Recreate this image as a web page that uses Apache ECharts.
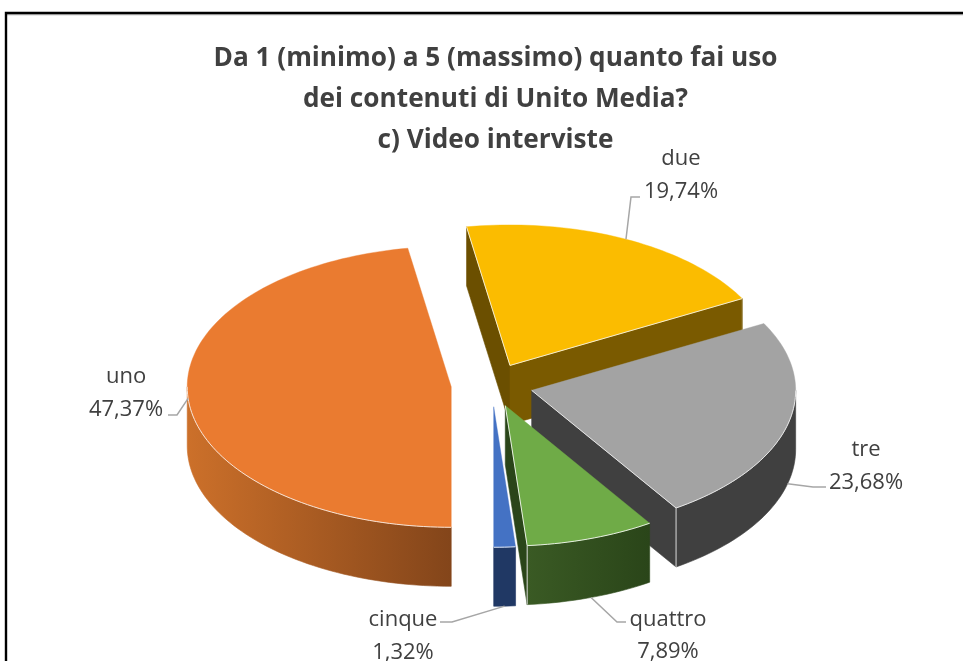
<!DOCTYPE html>
<html><head><meta charset="utf-8">
<style>html,body{margin:0;padding:0;background:#fff}#c{width:963px;height:661px}</style>
<script src="https://cdn.jsdelivr.net/npm/echarts@6/dist/echarts.min.js"></script>
</head><body><div id="c"></div>
<script>
const titleLines = ['Da 1 (minimo) a 5 (massimo) quanto fai uso','dei contenuti di Unito Media?','c) Video interviste'];
const categories = ['uno','due','tre','quattro','cinque'];
const percentages = [47.37,19.74,23.68,7.89,1.32];

const FONT = '"Open Sans","Noto Sans",sans-serif';
const C = {x:492,y:385,rx:264,ry:140.5,depth:59,explode:0.155,start:180};
const styles = [
  {top:'#ea7b30',wall:{type:'linear',x:187,y:0,x2:452,y2:0,global:true,colorStops:[{offset:0,color:'#cc702a'},{offset:1,color:'#83451a'}]},cutEnd:'#83451a',cutStart:'#83451a',edge:'#f6e3d6'},
  {top:'#fbbc00',wall:'#7a5a00',cutEnd:'#7a5a00',cutStart:'#6b4f00',edge:'#f4ecd0'},
  {top:'#a3a3a3',wall:'#404040',cutEnd:'#404040',cutStart:'#404040',edge:'#e6e6e6'},
  {top:'#6fab47',wall:{type:'linear',x:527,y:0,x2:650,y2:0,global:true,colorStops:[{offset:0,color:'#3a5a24'},{offset:1,color:'#2a4519'}]},cutEnd:'#2a4519',cutStart:'#2a4519',edge:'#e6efe0'},
  {top:'#4472c4',wall:'#203864',cutEnd:'#203864',cutStart:'#203864',edge:'#dfe6f3'}
];
const labels = [
  {cx:126,y1:376.5,y2:409.5,onBottom:false,elbow:[177,415],end:[168,415]},
  {cx:681,y1:158.5,y2:191.5,onBottom:false,elbow:[631,197],end:[640,197]},
  {cx:866,y1:449.5,y2:482.5,onBottom:true,elbow:[813,487],end:[826,487]},
  {cx:668,y1:619.5,y2:651.5,onBottom:true,elbow:[617,622],end:[626,622]},
  {cx:403,y1:619.5,y2:652.5,onBottom:true,elbow:[452,622],end:[440,622]}
];
const total = percentages.reduce((a,b)=>a+b,0);
const rad = d=>d*Math.PI/180;
const slices = (()=>{let a=C.start;return percentages.map(v=>{const s=a,e=a+v/total*360;a=e;
  return {s:s%360,e:(s%360)+(e-s),m:(s%360)+(e-s)/2};});})();

function pt(c,deg,dz){return [c.x+C.rx*Math.sin(rad(deg)),c.y-C.ry*Math.cos(rad(deg))+(dz||0)];}
function arc(c,s,e,dz){const n=Math.max(2,Math.ceil((e-s)/1.5));const r=[];for(let i=0;i<=n;i++)r.push(pt(c,s+(e-s)*i/n,dz));return r;}
function poly(points,fill,stroke,w){return {type:'polygon',shape:{points},style:{fill,stroke:stroke||fill,lineWidth:w===undefined?0.6:w}};}
function line(points,stroke,w){return {type:'polyline',shape:{points},style:{fill:null,stroke,lineWidth:w}};}
function centre(sl){return {x:C.x+C.explode*C.rx*Math.sin(rad(sl.m)),y:C.y-C.explode*C.ry*Math.cos(rad(sl.m))};}

function renderItem(params,api){
  const i=api.value(0), sl=slices[i], st=styles[i];
  const c=centre(sl);
  const apexB=[c.x,c.y+C.depth];
  const kids=[];
  const edgeColor=st.edge;
  const endFaces=Math.sin(rad(sl.e))>0.01;
  const startFaces=-Math.sin(rad(sl.s))>0.01;
  if(startFaces) kids.push(poly([[c.x,c.y],pt(c,sl.s),pt(c,sl.s,C.depth),apexB],st.cutStart));
  if(endFaces) kids.push(poly([[c.x,c.y],pt(c,sl.e),pt(c,sl.e,C.depth),apexB],st.cutEnd));
  // outer wall: only the arc that faces the viewer (90..270 degrees from north)
  const ws=Math.max(sl.s,90), we=Math.min(sl.e,270);
  const hasWall=we>ws;
  if(hasWall){
    const top=arc(c,ws,we,0), bot=arc(c,ws,we,C.depth).reverse();
    kids.push(poly(top.concat(bot),st.wall));
  }
  // light vertical edges at the visible corners of the block
  if(endFaces&&hasWall&&Math.sin(rad(sl.e))>0.05) kids.push(line([pt(c,sl.e),pt(c,sl.e,C.depth)],'#d9d9d9',1));
  if(endFaces&&!hasWall) kids.push(line([pt(c,sl.e),pt(c,sl.e,C.depth)],'#a08a50',0.8));
  // top face
  kids.push(poly([[c.x,c.y]].concat(arc(c,sl.s,sl.e,0)),st.top,st.top,0.4));
  // light outline where the top meets a visible side
  if(hasWall) kids.push(line(arc(c,ws,we,0),edgeColor,1));
  if(endFaces) kids.push(line([[c.x,c.y],pt(c,sl.e)],edgeColor,1));
  if(startFaces) kids.push(line([[c.x,c.y],pt(c,sl.s)],edgeColor,1));
  return {type:'group',children:kids};
}
function renderLabels(params,api){
  const i=api.value(0), sl=slices[i], lb=labels[i];
  const c=centre(sl);
  const txt=(t,y)=>({type:'text',style:{text:t,x:lb.cx,y,align:'center',verticalAlign:'middle',fill:'#404040',font:'22px '+FONT}});
  return {type:'group',children:[
    line([pt(c,sl.m,lb.onBottom?C.depth:0),lb.elbow,lb.end],'#a6a6a6',1.5),
    txt(categories[i],lb.y1),
    txt(percentages[i].toFixed(2).replace('.',',')+'%',lb.y2)
  ]};
}
const chart=echarts.init(document.getElementById('c'),null,{renderer:'canvas'});
const idx=categories.map((_,i)=>[i]);
chart.setOption({
  animation:false,backgroundColor:'#fff',
  title:{text:titleLines.join('\n'),left:490.5,top:33,textAlign:'center',
    textStyle:{fontFamily:FONT,fontSize:26.2,fontWeight:'bold',color:'#404040',lineHeight:41,align:'center'}},
  graphic:[
    {type:'line',shape:{x1:7,y1:14.8,x2:963,y2:14.8},style:{stroke:'#b0b0b0',lineWidth:1},z:-2},
    {type:'rect',shape:{x:6,y:13,width:1000,height:700},style:{fill:null,stroke:'#000',lineWidth:2.4},z:-1}
  ],
  series:[
    {type:'custom',coordinateSystem:'none',name:'Video interviste',renderItem,data:idx,silent:true,clip:false},
    {type:'custom',coordinateSystem:'none',name:'Etichette',renderItem:renderLabels,data:idx,silent:true,clip:false,z:5}
  ]
});
</script></body></html>
